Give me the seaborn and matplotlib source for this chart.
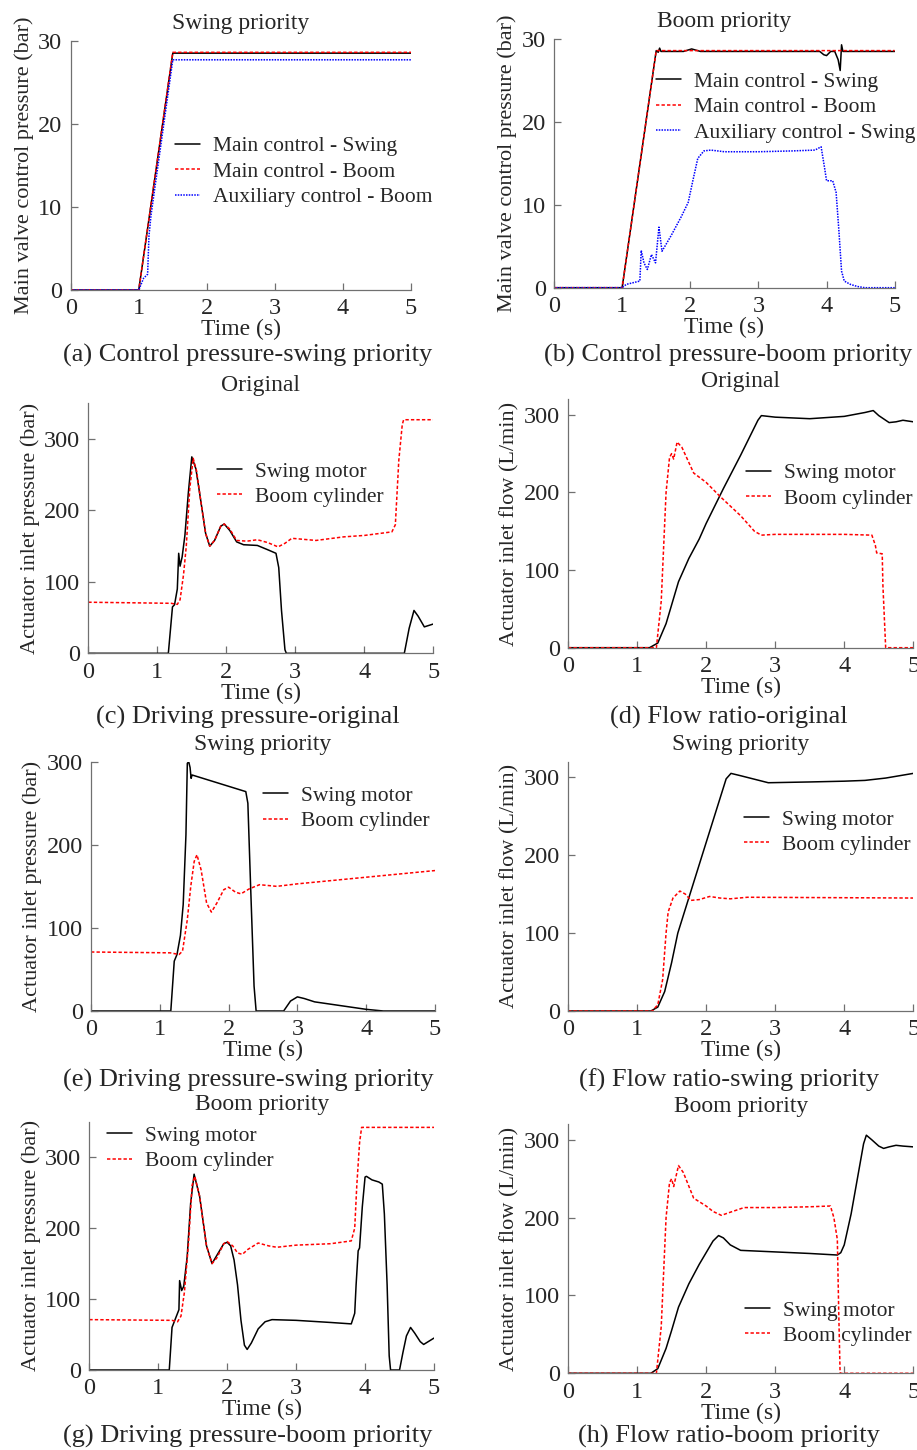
import matplotlib
matplotlib.use("Agg")
import matplotlib.pyplot as plt
import seaborn as sns

# ---------------- data ----------------
# (a) control pressure - swing priority
a_main_swing_t = [0, 1.0, 1.5, 5]
a_main_swing_v = [0, 0, 28.5, 28.5]
a_main_boom_t = [0, 1.0, 1.5, 5]
a_main_boom_v = [0, 0, 28.6, 28.6]
a_aux_boom_t = [0, 1.0, 1.07, 1.13, 1.15, 1.18, 1.5, 5]
a_aux_boom_v = [0, 0, 1.4, 1.9, 6.5, 9.0, 27.7, 27.7]

# (b) control pressure - boom priority
b_main_swing_t = [0, 1.0, 1.5, 1.53, 1.55, 1.57, 1.9, 2.02, 2.15, 3.9, 3.96, 4.0,
                  4.06, 4.12, 4.17, 4.2, 4.22, 4.24, 5]
b_main_swing_v = [0, 0, 28.6, 28.4, 28.9, 28.5, 28.5, 28.8, 28.5, 28.5, 28.1, 28.0,
                  28.5, 28.5, 27.5, 26.2, 29.3, 28.5, 28.5]
b_main_boom_t = [0, 1.0, 1.5, 5]
b_main_boom_v = [0, 0, 28.6, 28.6]
b_aux_swing_t = [0, 1.0, 1.06, 1.26, 1.28, 1.32, 1.37, 1.43, 1.49, 1.54, 1.585, 1.72,
                 1.87, 1.97, 2.04, 2.11, 2.2, 2.3, 2.5, 3.0, 3.5, 3.83, 3.92, 3.97,
                 4.0, 4.09, 4.14, 4.18, 4.22, 4.26, 4.35, 4.45, 4.56, 5]
b_aux_swing_v = [0, 0, 0.4, 0.8, 4.5, 3.0, 2.2, 4.0, 3.0, 7.3, 4.4, 6.3,
                 8.6, 10.3, 13.0, 15.6, 16.5, 16.6, 16.4, 16.4, 16.5, 16.6, 17.0, 14.5,
                 12.9, 12.9, 11.5, 7.0, 2.0, 0.8, 0.4, 0.15, 0, 0]

# (c) driving pressure - original
c_swing_t = [0, 1.16, 1.22, 1.25, 1.29, 1.31, 1.33, 1.36, 1.4, 1.45, 1.5, 1.56, 1.62,
             1.7, 1.76, 1.83, 1.92, 1.97, 2.05, 2.15, 2.25, 2.45, 2.6, 2.72, 2.76,
             2.8, 2.85, 2.87, 4.58, 4.65, 4.72, 4.78, 4.87, 5.0]
c_swing_v = [0, 0, 65, 68, 90, 140, 122, 135, 165, 225, 275, 258, 220,
             168, 150, 158, 178, 181, 172, 156, 152, 151, 145, 140, 120,
             60, 5, 0, 0, 35, 60, 52, 37, 41]
c_boom_t = [0, 1.2, 1.29, 1.33, 1.38, 1.42, 1.47, 1.52, 1.57, 1.62, 1.7, 1.76, 1.83,
            1.92, 1.97, 2.05, 2.15, 2.3, 2.45, 2.6, 2.75, 2.85, 2.95, 3.3, 3.7, 4.0,
            4.4, 4.45, 4.5, 4.55, 4.57, 5.0]
c_boom_v = [71.5, 70, 68.5, 75, 110, 150, 230, 273, 255, 220, 168, 150, 158,
            178, 181, 174, 158, 157, 159, 155, 149, 154, 161, 158, 163, 165,
            170, 180, 270, 320, 327, 327]

# (d) flow - original
d_swing_t = [0, 1.18, 1.3, 1.42, 1.5, 1.6, 1.75, 1.9, 2.0, 2.25, 2.5, 2.75, 2.8, 3.0,
             3.5, 4.0, 4.3, 4.42, 4.5, 4.65, 4.75, 4.85, 5.0]
d_swing_v = [0, 0, 6, 31, 55, 85, 115, 140, 160, 205, 248, 293, 299, 297,
             295, 298, 303, 305.5, 299, 290, 291, 293, 291]
d_boom_t = [0, 1.28, 1.35, 1.42, 1.47, 1.5, 1.53, 1.58, 1.65, 1.82, 2.0, 2.2, 2.5,
            2.7, 2.8, 3.0, 4.0, 4.4, 4.45, 4.47, 4.55, 4.56, 4.6, 5.0]
d_boom_v = [0, 0, 60, 200, 245, 250, 243, 265, 258, 225, 213, 195, 170,
            150, 145, 146, 146, 145, 132, 122, 121, 80, 0, 0]

# (e) driving pressure - swing priority
e_swing_t = [0, 1.16, 1.21, 1.25, 1.3, 1.34, 1.38, 1.40, 1.42, 1.44, 1.455, 1.47,
             2.25, 2.28, 2.32, 2.37, 2.4, 2.8, 2.9, 3.0, 3.1, 3.25, 3.5, 4.0, 4.25, 5.0]
e_swing_v = [0, 0, 60, 68, 91, 128, 212, 298, 300, 293, 280, 284,
             264, 250, 150, 30, 0, 0, 12, 17, 15, 11, 8, 2, 0, 0]
e_boom_t = [0, 1.15, 1.28, 1.33, 1.4, 1.45, 1.5, 1.54, 1.6, 1.68, 1.75, 1.83, 1.93,
            2.0, 2.1, 2.18, 2.3, 2.45, 2.7, 3.0, 3.5, 4.0, 4.5, 5.0]
e_boom_v = [71, 70, 68, 72, 110, 150, 180, 188, 170, 130, 119, 130, 146,
            149, 143, 141, 147, 152, 150, 153, 157, 161, 165, 169]

# (f) flow - swing priority
f_swing_t = [0, 1.2, 1.3, 1.4, 1.5, 1.59, 1.95, 2.29, 2.36, 2.5, 2.9, 3.5, 4.0,
             4.3, 4.6, 5.0]
f_swing_v = [0, 0, 5, 25, 62, 100, 202, 298, 305, 302, 293, 294, 295,
             296, 299, 305]
f_boom_t = [0, 1.22, 1.3, 1.37, 1.42, 1.45, 1.52, 1.62, 1.7, 1.78, 1.9, 2.05, 2.2,
            2.35, 2.6, 5.0]
f_boom_v = [0, 0, 8, 40, 100, 127, 145, 154, 150, 142, 143, 147, 145,
            144, 146, 145]

# (g) driving pressure - boom priority
g_swing_t = [0, 1.16, 1.2, 1.24, 1.3, 1.31, 1.34, 1.37, 1.42, 1.47, 1.52, 1.6, 1.7,
             1.78, 1.95, 2.0, 2.05, 2.1, 2.15, 2.2, 2.25, 2.29, 2.35, 2.45, 2.55,
             2.65, 3.0, 3.5, 3.8, 3.85, 3.87, 3.9, 3.92, 3.96, 4.0, 4.02, 4.1, 4.2,
             4.25, 4.28, 4.32, 4.35, 4.37, 4.5, 4.55, 4.6, 4.66, 4.72, 4.8, 4.85,
             4.95, 5.0]
g_swing_v = [0, 0, 60, 70, 85, 126, 112, 118, 160, 235, 276, 245, 175,
             150, 178, 180, 175, 155, 120, 70, 35, 29, 38, 58, 68,
             71, 70, 67, 65, 80, 120, 168, 172, 230, 272, 273, 268, 265,
             262, 220, 120, 20, 0, 0, 25, 48, 60, 52, 40, 36,
             42, 45]
g_boom_t = [0, 1.2, 1.28, 1.33, 1.38, 1.44, 1.49, 1.53, 1.6, 1.7, 1.78, 1.85, 1.95,
            2.0, 2.08, 2.15, 2.22, 2.3, 2.45, 2.6, 2.72, 3.0, 3.5, 3.8, 3.85, 3.88,
            3.92, 3.95, 5.0]
g_boom_v = [71, 70, 68, 76, 110, 180, 260, 273, 245, 175, 150, 158, 178,
            181, 175, 165, 163, 170, 179, 175, 173, 176, 178, 182, 200, 260,
            320, 342, 342]

# (h) flow - boom priority
h_swing_t = [0, 1.2, 1.3, 1.42, 1.5, 1.6, 1.75, 1.9, 2.0, 2.1, 2.18, 2.25, 2.35, 2.5,
             3.0, 3.5, 3.9, 3.95, 4.0, 4.1, 4.2, 4.28, 4.32, 4.4, 4.5, 4.57, 4.65,
             4.75, 4.85, 5.0]
h_swing_v = [0, 0, 6, 32, 55, 85, 115, 140, 155, 170, 177, 174, 165, 158,
             156, 154, 152, 155, 165, 205, 255, 295, 306, 300, 292, 289, 291,
             293, 292, 291]
h_boom_t = [0, 1.28, 1.35, 1.42, 1.47, 1.5, 1.53, 1.6, 1.67, 1.82, 2.0, 2.1, 2.22,
            2.35, 2.55, 3.0, 3.5, 3.8, 3.85, 3.9, 3.92, 3.94, 5.0]
h_boom_v = [0, 0, 60, 200, 245, 250, 240, 267, 258, 225, 215, 208, 203,
            207, 213, 213, 214, 215, 200, 172, 80, 0, 0]

titles = ["Swing priority", "Boom priority", "Original", "Original",
          "Swing priority", "Swing priority", "Boom priority", "Boom priority"]
captions = ["(a) Control pressure-swing priority", "(b) Control pressure-boom priority",
            "(c) Driving pressure-original", "(d) Flow ratio-original",
            "(e) Driving pressure-swing priority", "(f) Flow ratio-swing priority",
            "(g) Driving pressure-boom priority", "(h) Flow ratio-boom priority"]
ylabels = ["Main valve control pressure (bar)", "Main valve control pressure (bar)",
           "Actuator inlet pressure (bar)", "Actuator inlet flow (L/min)",
           "Actuator inlet pressure (bar)", "Actuator inlet flow (L/min)",
           "Actuator inlet pressure (bar)", "Actuator inlet flow (L/min)"]

# ---------------- style ----------------
sns.set_theme(style="white")
plt.rcParams["font.family"] = ["Liberation Serif", "DejaVu Serif"]

W, H = 917, 1450
fig = plt.figure(figsize=(W / 100, H / 100), dpi=100)

GRAY = "#707070"
SOLID = "-"
DASH = (0, (2.2, 1.4))
DOT = (0, (1, 0.8))

# axes boxes in pixels: left, top, right, bottom
boxes = [(70.7, 40.7, 411, 290), (554, 39, 894.7, 287.7),
         (88.3, 403.3, 433.3, 653.3), (568, 399.3, 913.3, 647.7),
         (91, 761.7, 435, 1011), (568, 761.7, 913.3, 1011),
         (89.3, 1121.7, 434, 1370), (568, 1124.3, 913.3, 1373.3)]
ylims = [30, 30, 350, 320, 300, 320, 350, 320]
ystep = [10, 10, 100, 100, 100, 100, 100, 100]
# legend anchor: handle start x, middle y (pixels)
leg_pos = [(175, 171.7), (656, 107.3), (216.7, 484.2), (746, 485.8),
           (263, 808.5), (743.7, 832.2), (106.7, 1148.5), (745.3, 1323.2)]
cap_pos = [(248, 362), (728.5, 362), (248, 724), (729, 724),
           (248, 1087), (729, 1087), (248, 1443), (729, 1443)]

series = [
    [(a_main_swing_t, a_main_swing_v, "Main control - Swing", "black", SOLID),
     (a_main_boom_t, a_main_boom_v, "Main control - Boom", "red", DASH),
     (a_aux_boom_t, a_aux_boom_v, "Auxiliary control - Boom", "blue", DOT)],
    [(b_main_swing_t, b_main_swing_v, "Main control - Swing", "black", SOLID),
     (b_main_boom_t, b_main_boom_v, "Main control - Boom", "red", DASH),
     (b_aux_swing_t, b_aux_swing_v, "Auxiliary control - Swing", "blue", DOT)],
    [(c_swing_t, c_swing_v, "Swing motor", "black", SOLID),
     (c_boom_t, c_boom_v, "Boom cylinder", "red", DASH)],
    [(d_swing_t, d_swing_v, "Swing motor", "black", SOLID),
     (d_boom_t, d_boom_v, "Boom cylinder", "red", DASH)],
    [(e_swing_t, e_swing_v, "Swing motor", "black", SOLID),
     (e_boom_t, e_boom_v, "Boom cylinder", "red", DASH)],
    [(f_swing_t, f_swing_v, "Swing motor", "black", SOLID),
     (f_boom_t, f_boom_v, "Boom cylinder", "red", DASH)],
    [(g_swing_t, g_swing_v, "Swing motor", "black", SOLID),
     (g_boom_t, g_boom_v, "Boom cylinder", "red", DASH)],
    [(h_swing_t, h_swing_v, "Swing motor", "black", SOLID),
     (h_boom_t, h_boom_v, "Boom cylinder", "red", DASH)],
]

for i in range(8):
    l, t, r, b = boxes[i]
    ax = fig.add_axes([l / W, 1 - b / H, (r - l) / W, (b - t) / H])
    for xs, ys, lab, col, ls in series[i]:
        sns.lineplot(x=xs, y=ys, ax=ax, color=col, linestyle=ls, linewidth=1.1,
                     label=lab, estimator=None, sort=False, legend=False)
    ax.set_xlim(0, 5)
    ax.set_ylim(0, ylims[i])
    ax.set_xticks(range(6))
    ax.set_yticks(range(0, ylims[i] + 1, ystep[i]))
    sns.despine(ax=ax)
    for s in ["left", "bottom"]:
        ax.spines[s].set_color(GRAY)
        ax.spines[s].set_linewidth(0.9)
    ax.tick_params(direction="in", length=5, width=0.9, color=GRAY,
                   labelsize=17.5, pad=6, left=True, bottom=True)
    ax.set_title(titles[i], fontsize=17, pad=8.5)
    ax.set_xlabel("Time (s)", fontsize=17, labelpad=0)
    ax.set_ylabel(ylabels[i], fontsize=16, labelpad=3)
    ax.set_facecolor("white")
    lx, ly = leg_pos[i]
    ax.legend(loc="center left", bbox_to_anchor=(lx / W, 1 - ly / H),
              bbox_transform=fig.transFigure, frameon=False, fontsize=15.5,
              borderpad=0, borderaxespad=0, handlelength=1.16, handletextpad=0.6,
              labelspacing=0.25)
    cx, cy = cap_pos[i]
    fig.text(cx / W, 1 - cy / H, captions[i], ha="center", va="baseline", fontsize=19)

fig.savefig("out.png", dpi=100, facecolor="white")
